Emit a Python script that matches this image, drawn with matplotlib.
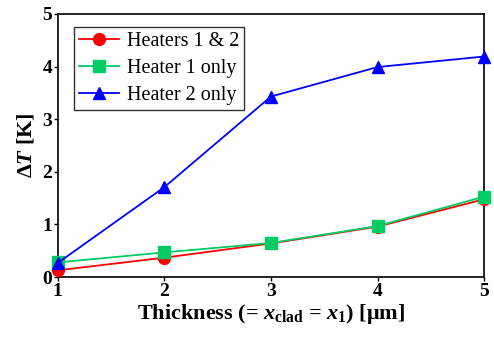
import matplotlib
matplotlib.use("Agg")
import matplotlib.pyplot as plt

thickness = [1, 2, 3, 4, 5]
dt_both = [0.13, 0.37, 0.64, 0.96, 1.48]
dt_h1 = [0.28, 0.47, 0.65, 0.97, 1.53]
dt_h2 = [0.27, 1.71, 3.43, 3.99, 4.19]
labels = ["Heaters 1 & 2", "Heater 1 only", "Heater 2 only"]

plt.rcParams['font.family'] = 'Liberation Serif'
plt.rcParams['mathtext.fontset'] = 'custom'
plt.rcParams['mathtext.rm'] = 'Liberation Serif:bold'
plt.rcParams['mathtext.it'] = 'Liberation Serif:bold:italic'
plt.rcParams['mathtext.bf'] = 'Liberation Serif:bold'

fig = plt.figure(figsize=(4.94, 3.38), dpi=100)
ax = fig.add_axes([0.117, 0.180, 0.863, 0.779])

ax.plot(thickness, dt_both, color='#ff0000', marker='o', ms=8.5, lw=1.3, label=labels[0], clip_on=False, zorder=3)
ax.plot(thickness, dt_h1, color='#00cc66', marker='s', ms=8.5, lw=1.3, label=labels[1], clip_on=False, zorder=4)
ax.plot(thickness, dt_h2, color='#0000ff', marker='^', ms=8.5, lw=1.3, label=labels[2], clip_on=False, zorder=5)

ax.set_xlim(1, 5)
ax.set_ylim(0, 5)
ax.set_xticks([1, 2, 3, 4, 5])
ax.set_yticks([0, 1, 2, 3, 4, 5])
for lab in ax.get_xticklabels() + ax.get_yticklabels():
    lab.set_fontweight('bold')
    lab.set_fontsize(14)
ax.tick_params(direction='out', length=3, width=1, pad=1)
for s in ax.spines.values():
    s.set_linewidth(1.2)

ax.set_ylabel(r'$\Delta T$ [K]', fontsize=16, fontweight='bold', labelpad=4)
ax.set_xlabel(r'Thickness (= $x_{\mathrm{clad}}$ = $x_1$) [μm]', fontsize=16, fontweight='bold', labelpad=2)

leg = ax.legend(loc='upper left', bbox_to_anchor=(0.037, 0.95), fontsize=14.5, frameon=True, fancybox=False,
                edgecolor='black', handlelength=2.0, borderpad=0.25, labelspacing=0.4, handletextpad=0.4,
                borderaxespad=0)
leg.get_frame().set_linewidth(1.0)

fig.savefig('out.png', dpi=100)
